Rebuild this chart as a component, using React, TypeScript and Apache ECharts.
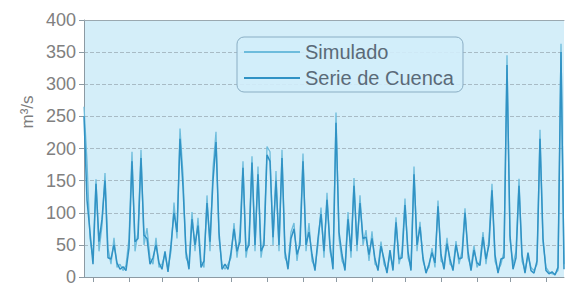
import React, { useEffect, useRef } from "react";
import * as echarts from "echarts";

const simulado: number[] = [
  265, 180, 60, 30, 152, 40, 80, 162, 45, 20,
  61, 15, 20, 10, 18, 60, 195, 40, 70, 198,
  50, 76, 30, 20, 61, 15, 20, 35, 12, 40,
  116, 60, 231, 160, 30, 20, 101, 40, 92, 25,
  15, 127, 40, 170, 226, 60, 20, 12, 20, 30,
  84, 30, 70, 180, 30, 60, 188, 40, 172, 30,
  60, 203, 195, 50, 165, 40, 198, 30, 20, 70,
  84, 25, 60, 192, 40, 84, 25, 15, 50, 108,
  30, 131, 40, 20, 256, 60, 25, 15, 101, 30,
  154, 40, 127, 50, 73, 25, 71, 20, 15, 55,
  20, 10, 36, 15, 93, 20, 40, 122, 30, 15,
  172, 40, 86, 25, 10, 15, 45, 15, 119, 25,
  20, 61, 20, 15, 56, 20, 40, 107, 30, 15,
  49, 15, 25, 70, 20, 60, 145, 25, 10, 20,
  40, 345, 58, 20, 40, 153, 25, 10, 33, 15,
  10, 20, 229, 55, 15, 8, 5, 5, 10, 363,
  20,
];

const cuenca: number[] = [
  250, 120, 70, 20, 145, 55, 90, 150, 30, 28,
  50, 22, 12, 16, 10, 45, 180, 55, 60, 185,
  65, 60, 20, 30, 50, 22, 12, 40, 8, 50,
  100, 70, 215, 140, 40, 12, 90, 50, 80, 15,
  25, 115, 55, 150, 210, 70, 12, 20, 12, 38,
  75, 40, 55, 170, 40, 50, 178, 50, 160, 40,
  50, 190, 180, 62, 150, 50, 185, 40, 12, 60,
  75, 35, 50, 180, 50, 70, 35, 10, 60, 98,
  40, 120, 50, 12, 240, 70, 35, 10, 90, 40,
  142, 50, 115, 60, 62, 35, 60, 28, 10, 48,
  28, 6, 42, 10, 85, 28, 30, 112, 40, 10,
  160, 50, 78, 30, 6, 20, 38, 22, 110, 35,
  12, 52, 28, 10, 50, 28, 30, 100, 40, 10,
  42, 22, 18, 62, 28, 50, 135, 35, 6, 28,
  30, 330, 65, 12, 30, 142, 35, 6, 38, 10,
  6, 25, 215, 60, 10, 5, 8, 3, 15, 350,
  12,
];

const categories: string[] = simulado.map((_, i) => String(i + 1));
const tickIdx: number[] = [3, 15, 26, 38, 49, 61, 73, 84, 96, 107, 119, 131, 142, 154];

const seriesNames = ["Simulado", "Serie de Cuenca"];
const FONT = "'Liberation Sans', Arial, Helvetica, sans-serif";

export default function App() {
  const ref = useRef<HTMLDivElement>(null);
  useEffect(() => {
    document.body.style.margin = "0";
    if (!ref.current) return;
    const chart = echarts.init(ref.current, undefined, { renderer: "svg" });
    const tickSet = new Set(tickIdx);
    chart.setOption({
      animation: false,
      backgroundColor: "#ffffff",
      textStyle: { fontFamily: FONT },
      grid: {
        left: 84,
        top: 20,
        right: 2,
        bottom: 3,
        show: true,
        backgroundColor: "#d4eef9",
        borderWidth: 0,
      },
      legend: {
        orient: "vertical",
        left: 237,
        top: 37,
        padding: [5, 9, 4, 6],
        itemWidth: 56,
        itemHeight: 14,
        itemGap: 6,
        itemStyle: { opacity: 0 },
        borderColor: "#8aaec4",
        borderWidth: 1,
        borderRadius: 7,
        backgroundColor: "rgba(210,237,249,0.9)",
        textStyle: { fontSize: 20, color: "#5a6a78", fontFamily: FONT },
        data: seriesNames,
      },
      graphic: [
        {
          type: "text",
          x: 27,
          y: 112,
          rotation: Math.PI / 2,
          style: {
            text: "m³/s",
            fontSize: 17,
            fill: "#7d7d7d",
            fontFamily: FONT,
            textAlign: "center",
            textVerticalAlign: "middle",
          },
        },
      ],
      xAxis: [
        {
          type: "category",
          data: categories,
          boundaryGap: false,
          axisLine: { show: true, lineStyle: { color: "#8c9aa3", width: 1 } },
          axisTick: {
            show: true,
            length: 5,
            interval: (index: number) => tickSet.has(index),
            lineStyle: { color: "#8c9aa3" },
          },
          axisLabel: { show: false },
          splitLine: { show: false },
        },
        {
          type: "category",
          data: categories,
          position: "top",
          boundaryGap: false,
          axisLine: { show: true, lineStyle: { color: "#9aa8b0", width: 1 } },
          axisTick: { show: false },
          axisLabel: { show: false },
          splitLine: { show: false },
        },
      ],
      yAxis: {
        type: "value",
        min: 0,
        max: 400,
        interval: 50,
        axisLine: { show: true, lineStyle: { color: "#8c9aa3", width: 1 } },
        axisTick: { show: true, length: 5, lineStyle: { color: "#8c9aa3" } },
        axisLabel: { fontSize: 18, color: "#808080", margin: 8, fontFamily: FONT },
        splitLine: { show: true, lineStyle: { color: "#a8bbc5", type: "dashed", width: 1 } },
      },
      series: [
        {
          name: seriesNames[0],
          type: "line",
          data: simulado,
          symbol: "none",
          lineStyle: { color: "#6dbcdc", width: 1.3 },
          itemStyle: { color: "#6dbcdc" },
        },
        {
          name: seriesNames[1],
          type: "line",
          data: cuenca,
          symbol: "none",
          lineStyle: { color: "#3092c4", width: 1.5 },
          itemStyle: { color: "#3092c4" },
        },
      ],
    });
    return () => chart.dispose();
  }, []);
  return <div ref={ref} style={{ width: 566, height: 286 }} />;
}
